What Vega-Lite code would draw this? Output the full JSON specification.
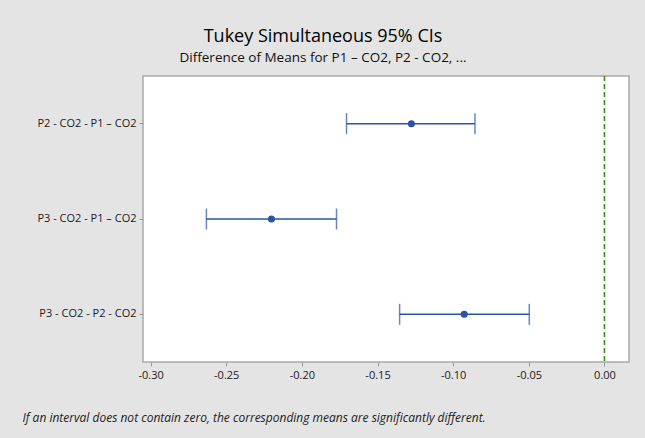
{
  "$schema": "https://vega.github.io/schema/vega-lite/v6.json",
  "autosize": "none",
  "width": 486,
  "height": 286,
  "padding": {"left": 143, "top": 76, "right": 16, "bottom": 76},
  "background": "#e4e4e4",
  "config": {
    "font": "Open Sans",
    "view": {"fill": "#ffffff", "stroke": "#a9a9a9", "strokeWidth": 1.5}
  },
  "title": {
    "text": "Tukey Simultaneous 95% CIs",
    "subtitle": "Difference of Means for P1 – CO2, P2 - CO2, ...",
    "anchor": "middle",
    "dx": -63,
    "fontSize": 18,
    "fontWeight": "normal",
    "color": "#000000",
    "subtitleFontSize": 13.5,
    "subtitleColor": "#111111",
    "subtitlePadding": 5,
    "offset": 11
  },
  "data": {
    "values": [
      {"pair": "P2 - CO2 - P1 – CO2", "lo": -0.1705, "mean": -0.1276, "hi": -0.0856},
      {"pair": "P3 - CO2 - P1 – CO2", "lo": -0.2631, "mean": -0.2201, "hi": -0.1771},
      {"pair": "P3 - CO2 - P2 - CO2", "lo": -0.1354, "mean": -0.0927, "hi": -0.0497}
    ]
  },
  "encoding": {
    "y": {
      "field": "pair",
      "type": "nominal",
      "sort": null,
      "title": null,
      "axis": {
        "domain": false,
        "ticks": true,
        "tickSize": 4,
        "tickColor": "#999999",
        "labelFontSize": 11,
        "labelColor": "#1a1a1a",
        "labelPadding": 3
      }
    }
  },
  "layer": [
    {
      "mark": {"type": "rule", "color": "#2b53a8", "strokeWidth": 1.5},
      "encoding": {
        "x": {
          "field": "lo",
          "type": "quantitative",
          "scale": {"domain": [-0.305, 0.0162], "nice": false, "zero": false},
          "axis": {
            "values": [-0.3, -0.25, -0.2, -0.15, -0.1, -0.05, 0],
            "labelExpr": "replace(format(datum.value, '.2f'), '\u2212', '-')",
            "domain": false,
            "grid": false,
            "tickSize": 4,
            "tickColor": "#999999",
            "labelFontSize": 11,
            "labelColor": "#1a1a1a",
            "labelPadding": 3,
            "title": "If an interval does not contain zero, the corresponding means are significantly different.",
            "titleFontSize": 12,
            "titleFontStyle": "italic",
            "titleFontWeight": "normal",
            "titleColor": "#222222",
            "titleAnchor": "start",
            "titleAlign": "left",
            "titleX": -121,
            "titleY": 50
          }
        },
        "x2": {"field": "hi"}
      }
    },
    {
      "mark": {"type": "tick", "color": "#2b53a8", "thickness": 1.5, "size": 21},
      "encoding": {"x": {"field": "lo", "type": "quantitative"}}
    },
    {
      "mark": {"type": "tick", "color": "#2b53a8", "thickness": 1.5, "size": 21},
      "encoding": {"x": {"field": "hi", "type": "quantitative"}}
    },
    {
      "mark": {"type": "point", "filled": true, "color": "#2b53a8", "opacity": 1, "size": 50},
      "encoding": {"x": {"field": "mean", "type": "quantitative"}}
    },
    {
      "mark": {"type": "rule", "color": "#3a8a1a", "strokeWidth": 1.2, "strokeDash": [5, 3]},
      "encoding": {"x": {"datum": 0, "type": "quantitative"}, "y": {"value": 0}, "y2": {"value": 286}}
    }
  ]
}
